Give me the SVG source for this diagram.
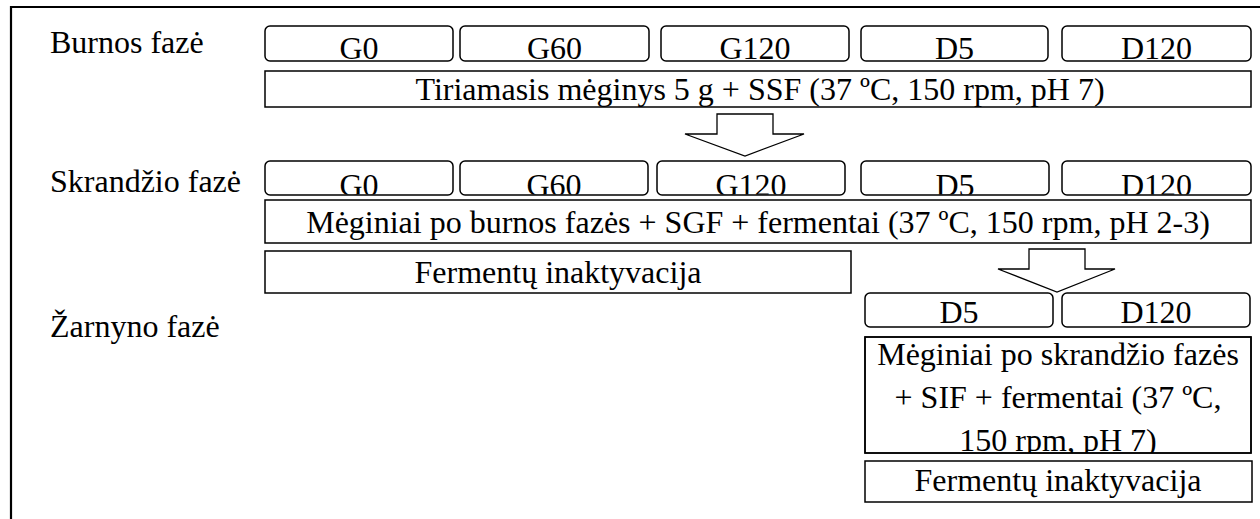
<svg xmlns="http://www.w3.org/2000/svg" width="1260" height="519" viewBox="0 0 1260 519" font-family="'Liberation Serif', 'Times New Roman', 'DejaVu Serif', serif">
<style>
text{font-family:'Liberation Serif','Times New Roman','DejaVu Serif',serif;font-size:32px;fill:#000}
.c{text-anchor:middle}
.rb{fill:#fff;stroke:#000;stroke-width:1.5}
.b{fill:#fff;stroke:#000;stroke-width:1.5}
.ar{fill:#fff;stroke:#000;stroke-width:1.3;stroke-linejoin:miter}
</style>
<defs>
<clipPath id="r2" clipPathUnits="userSpaceOnUse"><rect x="0" y="150" width="1260" height="44.5"/></clipPath>
<clipPath id="mb" clipPathUnits="userSpaceOnUse"><rect x="865" y="337" width="386" height="116"/></clipPath>
</defs>
<rect width="1260" height="519" fill="#fff"/>
<g id="frame"><path d="M11 519V7H1260" fill="none" stroke="#000" stroke-width="2.2"/></g>
<g id="labels">
<text x="50" y="53">Burnos fazė</text>
<text x="50" y="192">Skrandžio fazė</text>
<text x="50" y="337">Žarnyno fazė</text>
</g>
<g id="row1">
<g id="r1-g0"><rect class="rb" x="265" y="26" width="188" height="35" rx="5"/><text class="c" x="359" y="59">G0</text></g>
<g id="r1-g60"><rect class="rb" x="460" y="26" width="189" height="35" rx="5"/><text class="c" x="554.5" y="59">G60</text></g>
<g id="r1-g120"><rect class="rb" x="661" y="26" width="188" height="35" rx="5"/><text class="c" x="755" y="59">G120</text></g>
<g id="r1-d5"><rect class="rb" x="861" y="26" width="187" height="35" rx="5"/><text class="c" x="954.5" y="59">D5</text></g>
<g id="r1-d120"><rect class="rb" x="1062" y="26" width="189" height="35" rx="5"/><text class="c" x="1156.5" y="59">D120</text></g>
</g>
<g id="oral"><rect class="b" x="265" y="71" width="986" height="36"/><text class="c" x="760" y="100">Tiriamasis mėginys 5 g + SSF (37 ºC, 150 rpm, pH 7)</text></g>
<g id="row2">
<g id="r2-g0"><rect class="rb" x="265" y="161" width="188" height="34" rx="5"/><text class="c" x="359" y="196" clip-path="url(#r2)">G0</text></g>
<g id="r2-g60"><rect class="rb" x="460" y="161" width="188" height="34" rx="5"/><text class="c" x="554" y="196" clip-path="url(#r2)">G60</text></g>
<g id="r2-g120"><rect class="rb" x="657" y="161" width="188" height="34" rx="5"/><text class="c" x="751" y="196" clip-path="url(#r2)">G120</text></g>
<g id="r2-d5"><rect class="rb" x="861" y="161" width="188" height="34" rx="5"/><text class="c" x="955" y="196" clip-path="url(#r2)">D5</text></g>
<g id="r2-d120"><rect class="rb" x="1062" y="161" width="189" height="34" rx="5"/><text class="c" x="1156.5" y="196" clip-path="url(#r2)">D120</text></g>
</g>
<g id="gastric"><rect class="b" x="265" y="200" width="986" height="43"/><text class="c" x="758" y="233">Mėginiai po burnos fazės + SGF + fermentai (37 ºC, 150 rpm, pH 2-3)</text></g>
<g id="inact1"><rect class="b" x="265" y="251" width="586" height="42"/><text class="c" x="558" y="283">Fermentų inaktyvacija</text></g>
<g id="row3">
<g id="r3-d5"><rect class="rb" x="865" y="293" width="188" height="34" rx="5"/><text class="c" x="959" y="323">D5</text></g>
<g id="r3-d120"><rect class="rb" x="1062" y="293" width="188" height="34" rx="5"/><text class="c" x="1156" y="323">D120</text></g>
</g>
<g id="intestinal"><rect class="b" x="865" y="337" width="386" height="116"/>
<g clip-path="url(#mb)">
<text class="c" x="1058" y="365">Mėginiai po skrandžio fazės</text>
<text class="c" x="1058" y="408">+ SIF + fermentai (37 ºC,</text>
<text class="c" x="1058" y="451">150 rpm, pH 7)</text>
</g>
<rect x="865" y="337" width="386" height="116" fill="none" stroke="#000" stroke-width="1.5"/>
</g>
<g id="inact2"><rect class="b" x="865" y="461" width="387" height="41"/><text class="c" x="1058" y="491">Fermentų inaktyvacija</text></g>
<g id="connectors">
<polygon class="ar" points="717,114 773,114 773,134 804,134 745,156 685,134 717,134"/>
<polygon class="ar" points="1029,249 1085,249 1085,269 1115,269 1057,292 998,269 1029,269"/>
</g>
</svg>
